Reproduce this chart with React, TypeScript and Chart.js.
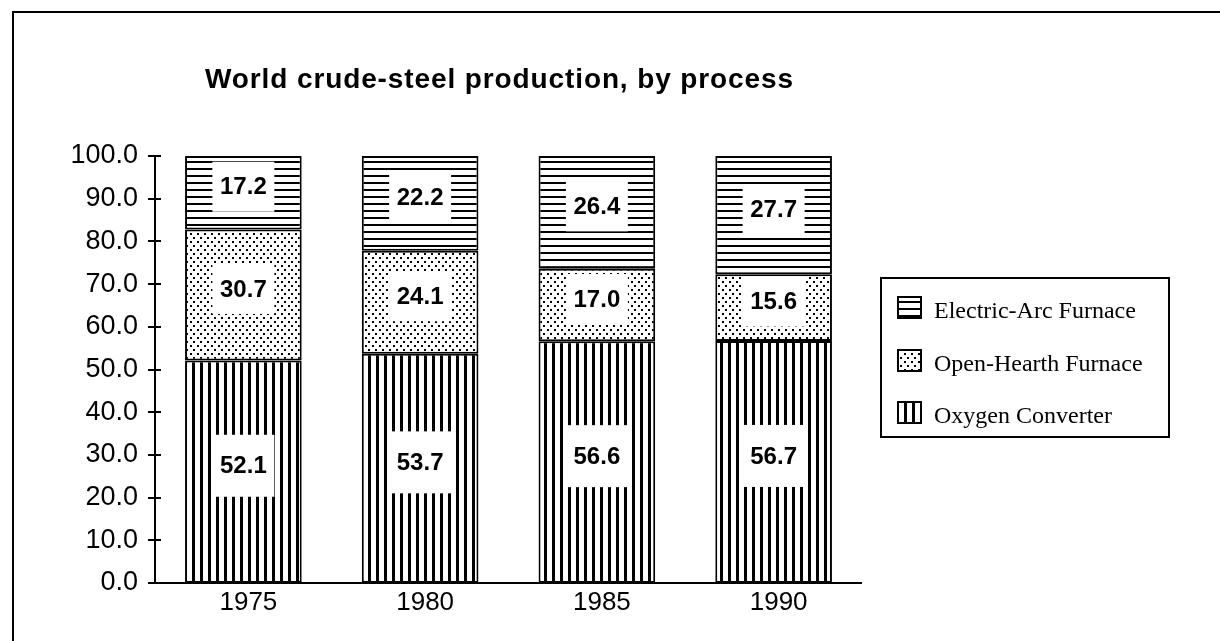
import React, { useEffect, useRef } from "react";
import { Chart, registerables } from "chart.js";

Chart.register(...registerables);

const chartTitle = "World crude-steel production, by process";
const years = ["1975", "1980", "1985", "1990"];
const oxygenConverter = [52.1, 53.7, 56.6, 56.7];
const openHearth = [30.7, 24.1, 17.0, 15.6];
const electricArc = [17.2, 22.2, 26.4, 27.7];
const seriesNames = ["Oxygen Converter", "Open-Hearth Furnace", "Electric-Arc Furnace"];
const yMin = 0;
const yMax = 100;
const yStep = 10;

function makeTile(kind: string): HTMLCanvasElement {
  const c = document.createElement("canvas");
  const g = c.getContext("2d") as CanvasRenderingContext2D;
  if (kind === "vertical") {
    c.width = 8; c.height = 8;
    g.fillStyle = "#fff"; g.fillRect(0, 0, 8, 8);
    g.fillStyle = "#000"; g.fillRect(0, 0, 3, 8);
  } else if (kind === "horizontal") {
    c.width = 7; c.height = 7;
    g.fillStyle = "#fff"; g.fillRect(0, 0, 7, 7);
    g.fillStyle = "#000"; g.fillRect(0, 0, 7, 2);
  } else {
    c.width = 7; c.height = 8;
    g.fillStyle = "#fff"; g.fillRect(0, 0, 7, 8);
    g.fillStyle = "#000";
    g.fillRect(1, 1, 2, 2);
    g.fillRect(4, 5, 2, 2);
  }
  return c;
}

export default function App() {
  const canvasRef = useRef<HTMLCanvasElement | null>(null);

  useEffect(() => {
    const canvas = canvasRef.current;
    if (!canvas) return;
    const ctx0 = canvas.getContext("2d") as CanvasRenderingContext2D;
    const patV = ctx0.createPattern(makeTile("vertical"), "repeat");
    const patD = ctx0.createPattern(makeTile("dots"), "repeat");
    const patH = ctx0.createPattern(makeTile("horizontal"), "repeat");
    const patterns = [patV, patD, patH];

    const framePlugin = {
      id: "frameAndBg",
      beforeDraw(chart: any) {
        const c = chart.ctx;
        c.save();
        c.fillStyle = "#fff";
        c.fillRect(0, 0, chart.width, chart.height);
        c.strokeStyle = "#000";
        c.lineWidth = 2;
        c.beginPath();
        c.moveTo(13, chart.height);
        c.lineTo(13, 12);
        c.lineTo(chart.width, 12);
        c.stroke();
        // title, stretched to the reference's width
        c.fillStyle = "#000";
        c.font = "bold 28px 'Liberation Sans', Arial, sans-serif";
        c.textAlign = "left";
        c.textBaseline = "alphabetic";
        const w = c.measureText(chartTitle).width;
        const sp = Math.max(0, (588 - w) / (chartTitle.length - 1));
        try { (c as any).letterSpacing = sp.toFixed(2) + "px"; } catch (e) {}
        c.fillText(chartTitle, 205, 88);
        try { (c as any).letterSpacing = "0px"; } catch (e) {}
        c.restore();
      },
    };

    const labelPlugin = {
      id: "segmentLabels",
      afterDatasetsDraw(chart: any) {
        const c = chart.ctx;
        c.save();
        chart.data.datasets.forEach((ds: any, di: number) => {
          const meta = chart.getDatasetMeta(di);
          meta.data.forEach((bar: any, i: number) => {
            const v = ds.data[i];
            const cy = (bar.y + bar.base) / 2 - 6;
            const bw = 62;
            const bh = di === 0 ? 62 : 50;
            c.fillStyle = "#fff";
            c.fillRect(bar.x - bw / 2, cy - bh / 2, bw, bh);
            c.fillStyle = "#000";
            c.font = "bold 24px 'Liberation Sans', Arial, sans-serif";
            c.textAlign = "center";
            c.textBaseline = "middle";
            c.fillText(Number(v).toFixed(1), bar.x, cy + 1);
          });
        });
        c.restore();
      },
    };

    const axesPlugin = {
      id: "axesAndLegend",
      afterDraw(chart: any) {
        const c = chart.ctx;
        const a = chart.chartArea;
        const ys = chart.scales.y;
        c.save();
        c.strokeStyle = "#000";
        c.lineWidth = 2;
        c.beginPath();
        c.moveTo(a.left, a.top);
        c.lineTo(a.left, a.bottom);
        c.moveTo(a.left - 7, a.bottom);
        c.lineTo(a.right, a.bottom);
        ys.ticks.forEach((t: any) => {
          const y = Math.round(ys.getPixelForValue(t.value));
          c.moveTo(a.left - 7, y);
          c.lineTo(a.left + 6, y);
        });
        c.stroke();

        // legend box
        const lx = 881, ly = 278, lw = 288, lh = 159;
        c.lineWidth = 2;
        c.strokeRect(lx, ly, lw, lh);
        const order = [2, 1, 0];
        const baselines = [318, 371, 423];
        order.forEach((di, k) => {
          const ds = chart.data.datasets[di];
          const iy = baselines[k] - 21;
          c.fillStyle = ds.backgroundColor;
          c.fillRect(898, iy, 23, 21);
          c.lineWidth = 2;
          c.strokeStyle = "#000";
          c.strokeRect(898, iy, 23, 21);
          c.fillStyle = "#000";
          c.font = "24px 'Liberation Serif', 'Times New Roman', serif";
          c.textAlign = "left";
          c.textBaseline = "alphabetic";
          c.fillText(ds.label, 934, baselines[k]);
        });
        c.restore();
      },
    };

    const seriesValues = [oxygenConverter, openHearth, electricArc];

    const chart = new Chart(canvas, {
      type: "bar",
      data: {
        labels: years,
        datasets: seriesValues.map((vals, i) => ({
          label: seriesNames[i],
          data: vals,
          backgroundColor: patterns[i] as any,
          borderColor: "#000",
          borderWidth: 2,
          borderSkipped: false,
          barPercentage: 0.66,
          categoryPercentage: 1,
        })),
      },
      options: {
        animation: false,
        responsive: false,
        devicePixelRatio: 1,
        layout: { padding: { left: 0, top: 156, right: 358, bottom: 18 } },
        plugins: {
          legend: { display: false },
          title: { display: false },
          tooltip: { enabled: false },
        },
        scales: {
          x: {
            stacked: true,
            grid: { display: false, drawTicks: false },
            border: { display: false },
            ticks: {
              color: "#000",
              padding: 4,
              labelOffset: 5,
              font: { family: "'Liberation Sans', Arial, sans-serif", size: 26 },
            },
            afterFit(scale: any) { scale.height = 40; },
          },
          y: {
            stacked: true,
            min: yMin,
            max: yMax,
            grid: { display: false, drawTicks: false },
            border: { display: false },
            ticks: {
              stepSize: yStep,
              color: "#000",
              padding: 17,
              font: { family: "'Liberation Sans', Arial, sans-serif", size: 27 },
              callback: (v: any) => Number(v).toFixed(1),
            },
            afterFit(scale: any) { scale.width = 155; },
          },
        },
      },
      plugins: [framePlugin, labelPlugin, axesPlugin],
    });

    return () => chart.destroy();
  }, []);

  return (
    <div style={{ position: "absolute", left: 0, top: 0, width: 1220, height: 641, background: "#fff" }}>
      <canvas ref={canvasRef} width={1220} height={641} style={{ display: "block", width: 1220, height: 641 }} />
    </div>
  );
}
